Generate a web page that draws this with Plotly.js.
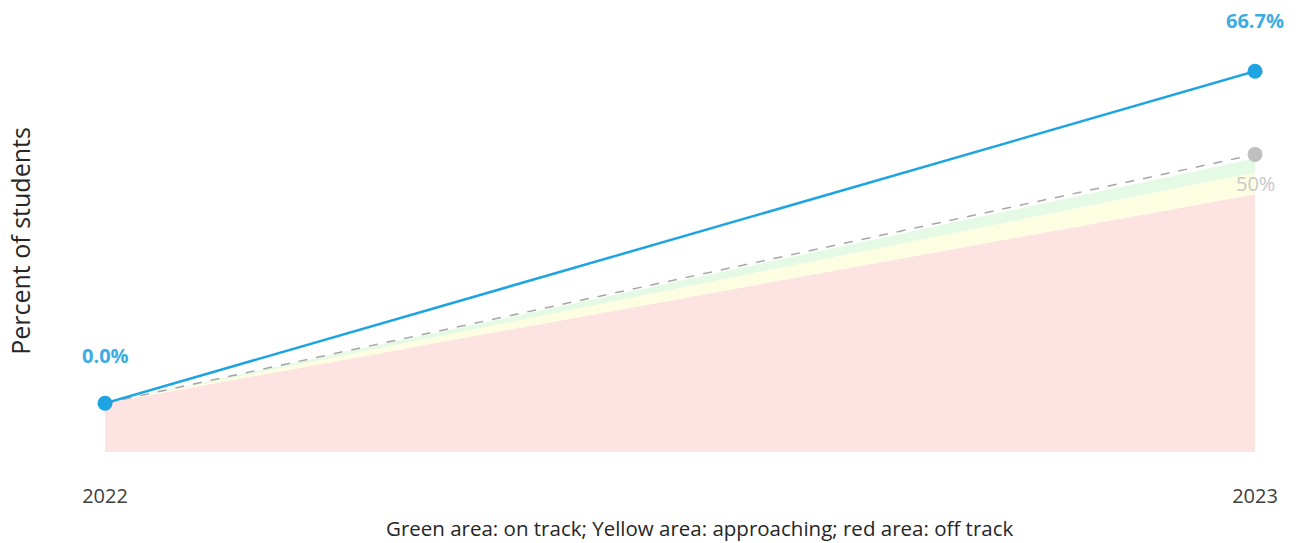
<!DOCTYPE html>
<html><head><meta charset="utf-8">
<script src="https://cdn.plot.ly/plotly-3.0.1.min.js"></script>
<style>html,body{margin:0;padding:0;background:#fff}#chart{width:1296px;height:543px}</style>
</head><body><div id="chart"></div>
<script>
const years = [2022, 2023];
const actual = [0, 66.7];
const actualLabels = ["0.0%", "66.7%"];
const target = [0, 50];
const targetLabel = "50%";
const redTop = [0, 42];
const yellowTop = [0, 46.4];
const greenTop = [0, 49.2];
const yMin = -9.8, yMax = 75;
const baseline = years.map(() => yMin);
const xTitle = 'Green area: on track; Yellow area: approaching; red area: off track';

const traces = [
  {x: years, y: baseline, mode: 'lines', line: {width: 0}, hoverinfo: 'skip', showlegend: false},
  {x: years, y: redTop, mode: 'lines', line: {width: 0}, fill: 'tonexty', fillcolor: '#fee3e3', hoverinfo: 'skip', showlegend: false},
  {x: years, y: yellowTop, mode: 'lines', line: {width: 0}, fill: 'tonexty', fillcolor: '#fdfde2', hoverinfo: 'skip', showlegend: false},
  {x: years, y: greenTop, mode: 'lines', line: {width: 0}, fill: 'tonexty', fillcolor: '#e4fae4', hoverinfo: 'skip', showlegend: false},
  {x: years, y: target, mode: 'lines', line: {color: '#a6a6a6', width: 1.5, dash: 'dash'}, showlegend: false, cliponaxis: false},
  {x: [years[1]], y: [target[1]], mode: 'markers', marker: {color: '#bfbfbf', size: 15}, showlegend: false, cliponaxis: false},
  {x: years, y: actual, mode: 'lines+markers', line: {color: '#1ea4e0', width: 2.5}, marker: {color: '#1ea4e0', size: 15}, showlegend: false, cliponaxis: false}
];

const annotations = [
  {x: years[0], y: actual[0], text: '<b>' + actualLabels[0] + '</b>', showarrow: false, yshift: 48, font: {family: 'Open Sans', size: 20, color: '#3aaee4'}},
  {x: years[1], y: actual[1], text: '<b>' + actualLabels[1] + '</b>', showarrow: false, yshift: 51, font: {family: 'Open Sans', size: 20, color: '#3aaee4'}},
  {x: years[1], y: target[1], text: targetLabel, showarrow: false, yshift: -29, font: {family: 'Open Sans', size: 20, color: '#c8c8c8'}},
  {xref: 'paper', yref: 'paper', x: 0.517, y: 0, yshift: -76, xanchor: 'center', yanchor: 'middle', text: xTitle, showarrow: false, font: {family: 'Open Sans', size: 20.5, color: '#262626'}}
];

const layout = {
  width: 1296, height: 543,
  margin: {l: 105, r: 41, t: 30, b: 91},
  paper_bgcolor: '#fff', plot_bgcolor: '#fff',
  xaxis: {
    range: [2022, 2023], tickvals: years, ticktext: years.map(String),
    showgrid: false, zeroline: false, showline: false, ticks: '',
    ticklabelstandoff: 30,
    tickfont: {family: 'Open Sans', size: 20, color: '#404040'}
  },
  yaxis: {
    range: [yMin, yMax], showgrid: false, zeroline: false, showline: false, showticklabels: false, ticks: '',
    title: {text: 'Percent of students', font: {family: 'Open Sans', size: 25, color: '#262626'}, standoff: 66}
  },
  annotations: annotations
};
Plotly.newPlot('chart', traces, layout, {displayModeBar: false, staticPlot: true});
</script></body></html>
